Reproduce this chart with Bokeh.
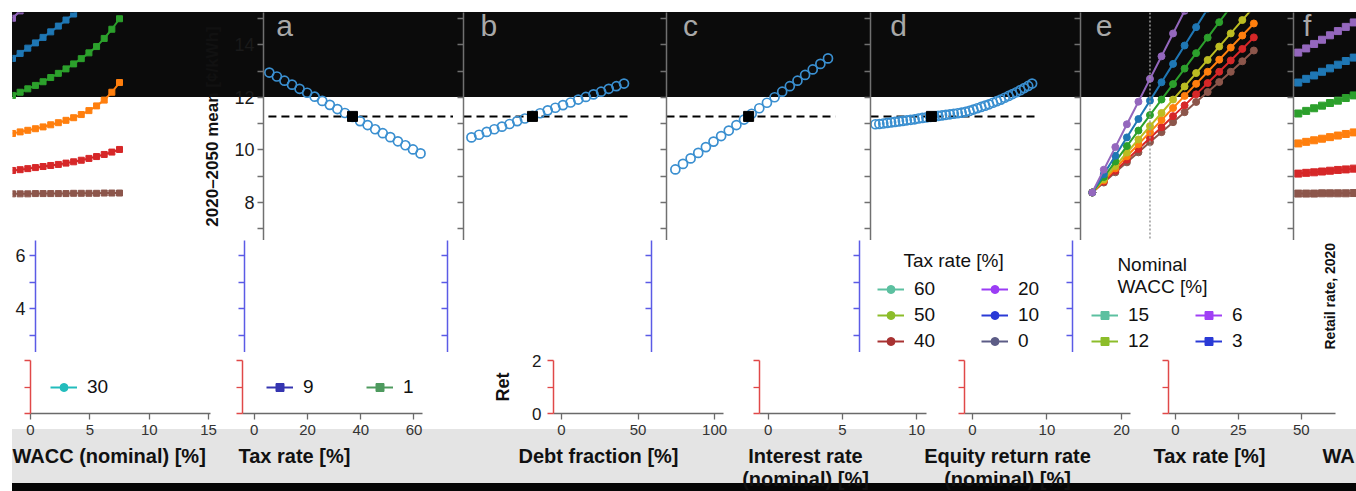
import math
from bokeh.plotting import figure
from bokeh.models import (Range1d, LinearAxis, FixedTicker, Span, Label, Legend,
                          LegendItem, ColumnDataSource, Row, Column,
                          CustomLabelingPolicy)
from bokeh.embed import file_html
from bokeh.resources import INLINE

FONT = "Liberation Sans"
NAN = float("nan")

# ---------------- data ----------------
# left fragment (cost vs step index)
frag_x = list(range(15))
frag_purple = [15.02, 15.30, 15.60, 15.92, 16.26, 16.62, 17.00, 17.40, 17.82, 18.26, 18.72, 19.20, 19.70, 20.22, 20.76]
frag_blue = [13.49, 13.68, 13.88, 14.08, 14.29, 14.50, 14.72, 14.95, 15.18, 15.42, 15.67, 15.93, 16.20, 16.48, 16.77]
frag_green = [12.08, 12.20, 12.33, 12.46, 12.60, 12.76, 12.92, 13.09, 13.28, 13.48, 13.70, 13.94, 14.25, 14.60, 15.00]
frag_orange = [10.63, 10.69, 10.75, 10.81, 10.88, 10.96, 11.04, 11.13, 11.23, 11.35, 11.50, 11.68, 11.90, 12.20, 12.57]
frag_red = [9.22, 9.25, 9.29, 9.33, 9.37, 9.41, 9.45, 9.50, 9.55, 9.61, 9.68, 9.75, 9.83, 9.92, 10.02]
frag_brown = [8.33, 8.33, 8.33, 8.34, 8.34, 8.34, 8.34, 8.34, 8.35, 8.35, 8.35, 8.35, 8.36, 8.36, 8.36]

# panel a: debt fraction [%]
debt_frac = [0, 5, 10, 15, 20, 25, 30, 35, 40, 45, 50, 55, 60, 65, 70, 75, 80, 85, 90, 95, 100]
cost_a = [12.95, 12.80, 12.64, 12.49, 12.33, 12.18, 12.03, 11.87, 11.72, 11.56, 11.41,
          11.26, 11.10, 10.95, 10.79, 10.64, 10.49, 10.33, 10.18, 10.02, 9.87]
# panel b: interest rate [%]
interest = [0, 0.5, 1, 1.5, 2, 2.5, 3, 3.5, 4, 4.5, 5, 5.5, 6, 6.5, 7, 7.5, 8, 8.5, 9, 9.5, 10]
cost_b = [10.48, 10.58, 10.69, 10.79, 10.89, 10.99, 11.10, 11.20, 11.30, 11.40, 11.51,
          11.61, 11.71, 11.81, 11.92, 12.02, 12.12, 12.22, 12.33, 12.43, 12.53]
# panel c: equity return rate [%]
equity = list(range(21))
cost_c = [9.26, 9.47, 9.68, 9.89, 10.11, 10.32, 10.53, 10.74, 10.95, 11.16, 11.38,
          11.59, 11.80, 12.01, 12.22, 12.43, 12.64, 12.86, 13.07, 13.28, 13.49]
# panel d: tax rate [%]
tax_d = list(range(41))
cost_d = [10.98, 10.99, 11.01, 11.03, 11.05, 11.07, 11.09, 11.11, 11.13, 11.15, 11.17,
          11.20, 11.22, 11.24, 11.26, 11.28, 11.30, 11.32, 11.34, 11.36, 11.38,
          11.40, 11.42, 11.45, 11.49, 11.54, 11.59, 11.64, 11.69, 11.74, 11.80,
          11.86, 11.92, 11.99, 12.06, 12.13, 12.20, 12.28, 12.36, 12.44, 12.53]
# base case
base_cost = 11.28
base_debt, base_interest, base_equity, base_tax = 55, 4.0, 9.6, 14.3

# panel e: WACC steps
wacc_e = list(range(15))
e_ref_wacc = 5
e_purple = [8.38, 9.25, 10.11, 10.98, 11.84, 12.71, 13.57, 14.44, 15.30, 16.17, 17.03, 17.90, 18.76, 19.63, 20.49]
e_blue = [8.38, 9.08, 9.78, 10.48, 11.18, 11.88, 12.58, 13.28, 13.98, 14.68, 15.38, 16.08, 16.78, 17.48, 18.18]
e_green = [8.38, 8.97, 9.56, 10.15, 10.74, 11.33, 11.92, 12.51, 13.10, 13.69, 14.28, 14.87, 15.46, 16.05, 16.64]
e_olive = [8.38, 8.89, 9.39, 9.90, 10.40, 10.91, 11.41, 11.92, 12.42, 12.93, 13.43, 13.94, 14.44, 14.95, 15.45]
e_orange = [8.38, 8.84, 9.30, 9.76, 10.22, 10.68, 11.14, 11.60, 12.06, 12.52, 12.98, 13.44, 13.90, 14.36, 14.82]
e_red = [8.38, 8.80, 9.21, 9.63, 10.04, 10.46, 10.87, 11.29, 11.70, 12.12, 12.55, 12.98, 13.41, 13.85, 14.29]
e_brown = [8.38, 8.76, 9.15, 9.53, 9.91, 10.30, 10.68, 11.06, 11.44, 11.83, 12.21, 12.59, 12.98, 13.38, 13.79]

# panel f
f_x = list(range(9))
f_purple = [13.71, 13.87, 14.04, 14.20, 14.37, 14.53, 14.69, 14.86, 15.02]
f_blue = [12.57, 12.71, 12.84, 12.98, 13.11, 13.25, 13.39, 13.52, 13.66]
f_green = [11.39, 11.49, 11.59, 11.69, 11.79, 11.88, 11.98, 12.08, 12.18]
f_orange = [10.25, 10.31, 10.37, 10.43, 10.49, 10.55, 10.61, 10.67, 10.73]
f_red = [9.10, 9.13, 9.15, 9.18, 9.21, 9.24, 9.26, 9.29, 9.32]
f_brown = [8.34, 8.34, 8.34, 8.35, 8.35, 8.35, 8.35, 8.36, 8.36]

# legends
tax_legend = ["60", "50", "40", "30", "20", "10", "0"]
tax_colors = ["#5cc0a0", "#8cbd2a", "#a83232", "#22bcbc", "#9b3cf5", "#2a3ad6", "#5c5c86"]
wacc_legend = ["15", "12", "9", "6", "3", "1"]
wacc_colors = ["#5cc0a0", "#8cbd2a", "#3535b0", "#a040f5", "#2a3ad6", "#4e9a5e"]

# ticks
top_major = [8, 10, 12, 14]
top_minor = [7, 9, 11, 13, 15]
mid_major = [4, 6]
mid_minor = [3, 5]
low_major = [0, 2]
low_minor = [1]
wacc_ticks = [0, 5, 10, 15]
tax_ticks = [0, 20, 40, 60]
debt_ticks = [0, 50, 100]
interest_ticks = [0, 5, 10]
equity_ticks = [0, 10, 20]
tax_ticks2 = [0, 25, 50]

# x-axis titles of the bottom strip
x_titles = ["WACC (nominal) [%]", "Tax rate [%]", "Debt fraction [%]",
            "Interest rate\n(nominal) [%]", "Equity return rate\n(nominal) [%]",
            "Tax rate [%]", "WA"]

PAL = dict(purple="#9467bd", blue="#1f77b4", green="#2ca02c", olive="#bcbd22",
           orange="#ff7f0e", red="#d62728", brown="#8c564b")
CIRC = "#3a8fd0"


def fig(w, h, xr, yr, bl=0, br=0, bt=0, bb=0):
    p = figure(width=w, height=h, x_range=Range1d(*xr), y_range=Range1d(*yr),
               x_axis_location=None, y_axis_location=None, toolbar_location=None,
               output_backend="svg", min_border_left=bl, min_border_right=br,
               min_border_top=bt, min_border_bottom=bb)
    p.background_fill_color = None
    p.border_fill_color = None
    p.outline_line_color = None
    p.xgrid.grid_line_color = None
    p.ygrid.grid_line_color = None
    return p


def yaxis(p, major, minor, color, labels=False, size="18px", standoff=4,
          title=None, title_size="17px", title_standoff=9):
    ax = LinearAxis(ticker=FixedTicker(ticks=major, minor_ticks=minor))
    ax.axis_line_color = color
    ax.axis_line_width = 1.5
    ax.major_tick_line_color = color
    ax.minor_tick_line_color = color
    ax.major_tick_line_width = 1.3
    ax.minor_tick_line_width = 1.3
    ax.major_tick_in = 0
    ax.major_tick_out = 6
    ax.minor_tick_in = 0
    ax.minor_tick_out = 6
    ax.major_label_text_font = FONT
    if labels:
        ax.major_label_text_font_size = size
        ax.major_label_text_color = "#1a1a1a"
        ax.major_label_standoff = standoff
    else:
        ax.major_label_text_font_size = "1px"
        ax.major_label_standoff = 0
        ax.major_label_policy = CustomLabelingPolicy(code="return null")
    if title is not None:
        ax.axis_label = title
        ax.axis_label_text_font = FONT
        ax.axis_label_text_font_style = "bold"
        ax.axis_label_text_font_size = title_size
        ax.axis_label_text_color = "#111111"
        ax.axis_label_standoff = title_standoff
    p.add_layout(ax, "left")


def xaxis(p, ticks):
    ax = LinearAxis(ticker=FixedTicker(ticks=ticks, minor_ticks=[]))
    ax.axis_line_color = "#6a6a6a"
    ax.axis_line_width = 1.5
    ax.major_tick_line_color = "#6a6a6a"
    ax.major_tick_line_width = 1.3
    ax.major_tick_in = 0
    ax.major_tick_out = 6
    ax.minor_tick_line_color = None
    ax.major_label_text_font = FONT
    ax.major_label_text_font_size = "15px"
    ax.major_label_text_color = "#333333"
    ax.major_label_standoff = 5
    p.add_layout(ax, "below")


def letter(p, x, y, t):
    p.add_layout(Label(x=x, y=y, text=t, text_font=FONT, text_font_size="30px",
                       text_color="#a8a8a8", text_align="left", text_baseline="middle"))


def sq_series(p, xs, ys, color, size=6):
    p.line(xs, ys, line_color=color, line_width=2)
    p.scatter(xs, ys, marker="square", size=size, color=color)


def sens_panel(p, xs, ys, bx, x0, x1):
    p.line([x0, x1], [base_cost, base_cost], line_color="black", line_width=2, line_dash="8 5")
    p.scatter(xs, ys, marker="circle", size=9, fill_alpha=0, line_color=CIRC, line_width=1.7)
    p.scatter([bx], [base_cost], marker="square", size=10, color="black")


def legend_item(p, label, color, marker):
    # series shown only through its legend entry in this strip (no visible points)
    src = ColumnDataSource(dict(x=[NAN], y=[NAN]))
    l = p.line("x", "y", source=src, line_color=color, line_width=2)
    s = p.scatter("x", "y", source=src, marker=marker, size=5, color=color)
    return LegendItem(label=label, renderers=[l, s])


def add_legend(p, items, loc, ncols=1, title=None, label_width=63, spacing=4):
    lg = Legend(items=items, location=loc, ncols=ncols)
    if title is not None:
        lg.title = title
        lg.title_text_font = FONT
        lg.title_text_font_size = "19px"
        lg.title_text_font_style = "normal"
        lg.title_text_color = "#111111"
        lg.title_standoff = 6
    lg.border_line_color = None
    lg.background_fill_color = None
    lg.padding = 0
    lg.margin = 0
    lg.spacing = spacing
    lg.glyph_width = 27
    lg.glyph_height = 20
    lg.label_standoff = 10
    lg.label_width = label_width
    lg.label_height = 20
    lg.label_text_font = FONT
    lg.label_text_font_size = "19px"
    lg.label_text_color = "#111111"
    p.add_layout(lg)


TOP_H = 240
TOP_Y = (6.552, 15.238)
AX = "#707070"

# ---------------- top row ----------------
t0 = fig(200, TOP_H, (0, 24.6), TOP_Y, bl=12, bt=12)
for ys, c in [(frag_purple, "purple"), (frag_blue, "blue"), (frag_green, "green"),
              (frag_orange, "orange"), (frag_red, "red"), (frag_brown, "brown")]:
    sq_series(t0, frag_x, ys, PAL[c])

pa = fig(253, TOP_H, (-3.85, 121.8), TOP_Y, bl=57, bt=12)
yaxis(pa, top_major, top_minor, AX, labels=True, size="18px", standoff=3,
      title="2020–2050 mean [¢/kWh]", title_size="17px", title_standoff=9)
sens_panel(pa, debt_frac, cost_a, base_debt, -0.6, 121.8)
letter(pa, 4.5, 14.74, "a")

pb = fig(203, TOP_H, (-0.52, 12.13), TOP_Y, bt=12)
yaxis(pb, top_major, top_minor, AX)
sens_panel(pb, interest, cost_b, base_interest, -0.52, 10.45)
letter(pb, 0.6, 14.74, "b")

pc = fig(204, TOP_H, (-1.16, 24.26), TOP_Y, bt=12)
yaxis(pc, top_major, top_minor, AX)
sens_panel(pc, equity, cost_c, base_equity, -1.16, 21.0)
letter(pc, 1.0, 14.74, "c")

pd = fig(210, TOP_H, (-1.26, 49.8), TOP_Y, bt=12)
yaxis(pd, top_major, top_minor, AX)
sens_panel(pd, tax_d, cost_d, base_tax, -1.26, 41.5)
letter(pd, 3.8, 14.74, "d")

pe = fig(213, TOP_H, (-1.02, 16.57), TOP_Y, bt=12)
yaxis(pe, top_major, top_minor, AX)
pe.add_layout(Span(location=e_ref_wacc, dimension="height", line_color="#9a9a9a",
                   line_dash="2 2", line_width=1.5))
for ys, c in [(e_brown, "brown"), (e_red, "red"), (e_orange, "orange"), (e_olive, "olive"),
              (e_green, "green"), (e_blue, "blue"), (e_purple, "purple")]:
    pe.line(wacc_e, ys, line_color=PAL[c], line_width=2)
    pe.scatter(wacc_e, ys, marker="circle", size=7, color=PAL[c])
letter(pe, 0.3, 14.74, "e")

pf = fig(73, TOP_H, (-0.6, 7.35), TOP_Y, bt=12)
yaxis(pf, top_major, top_minor, AX)
for ys, c in [(f_purple, "purple"), (f_blue, "blue"), (f_green, "green"),
              (f_orange, "orange"), (f_red, "red"), (f_brown, "brown")]:
    sq_series(pf, f_x, ys, PAL[c], size=7)
letter(pf, 0.6, 14.74, "f")

top_row = Row(children=[t0, pa, pb, pc, pd, pe, pf], spacing=0)

# ---------------- middle strip ----------------
MID_H = 112
MID_Y = (2.340, 6.566)
MAX = "#5b5be6"
m_widths = [234, 203, 204, 208, 213, 294]
m_bl = [35, 6, 6, 6, 6, 6]
mids = []
for i, (w, bl) in enumerate(zip(m_widths, m_bl)):
    m = fig(w, MID_H, (0, 1), MID_Y, bl=bl)
    yaxis(m, mid_major, mid_minor, MAX, labels=(i == 0), size="18px", standoff=4)
    mids.append(m)

m4 = mids[4]
tax_items = [legend_item(m4, tax_legend[k], tax_colors[k], "circle") for k in [0, 1, 2, 4, 5, 6]]
add_legend(m4, tax_items, (18, 0), ncols=2, title="\u00a0\u00a0\u00a0\u00a0\u00a0Tax rate [%]")

m5 = mids[5]
wacc_items = [legend_item(m5, wacc_legend[k], wacc_colors[k], "square") for k in [0, 1, 3, 4]]
add_legend(m5, wacc_items, (19, 0), ncols=2,
           title="\u00a0\u00a0\u00a0\u00a0\u00a0Nominal\n\u00a0\u00a0\u00a0\u00a0\u00a0WACC [%]")
m5.add_layout(Label(x=0.906, y=2.453, text="Retail rate, 2020", angle=math.pi / 2,
                    text_align="left", text_baseline="middle", text_font=FONT,
                    text_font_style="bold", text_font_size="14px", text_color="#111111"))

mid_row = Row(children=mids, spacing=0)

# ---------------- lower strip ----------------
LOW_H = 91
LOW_Y = (0, 2)
LAX = "#e04848"

l0 = fig(232, LOW_H, (0, 15.16), LOW_Y, bl=30, br=22, bt=8, bb=30)
yaxis(l0, low_major, low_minor, LAX)
xaxis(l0, wacc_ticks)
add_legend(l0, [legend_item(l0, tax_legend[3], tax_colors[3], "circle")], (20, 15))

l1 = fig(258, LOW_H, (-4.4, 63.2), LOW_Y, bl=6, br=68, bt=8, bb=30)
yaxis(l1, low_major, low_minor, LAX)
xaxis(l1, tax_ticks)
add_legend(l1, [legend_item(l1, wacc_legend[2], wacc_colors[2], "square"),
                legend_item(l1, wacc_legend[5], wacc_colors[5], "square")], (24, 15),
           ncols=2, label_width=59)

l2 = fig(259, LOW_H, (-5.2, 105.8), LOW_Y, bl=62, br=26, bt=8, bb=30)
yaxis(l2, low_major, low_minor, LAX, labels=True, size="17px", standoff=6,
      title="Ret", title_size="18px", title_standoff=16)
xaxis(l2, debt_ticks)

l3 = fig(205, LOW_H, (-0.59, 10.66), LOW_Y, bl=6, br=28, bt=8, bb=30)
yaxis(l3, low_major, low_minor, LAX)
xaxis(l3, interest_ticks)

l4 = fig(204, LOW_H, (-1.05, 21.2), LOW_Y, bl=6, br=28, bt=8, bb=30)
yaxis(l4, low_major, low_minor, LAX)
xaxis(l4, equity_ticks)

l5 = fig(198, LOW_H, (-2.7, 63.6), LOW_Y, bl=6, br=21, bt=8, bb=30)
yaxis(l5, low_major, low_minor, LAX)
xaxis(l5, tax_ticks2)

low_row = Row(children=[l0, l1, l2, l3, l4, l5], spacing=0)

# ---------------- axis-title band ----------------
TB_H = 48
tb = fig(1356, TB_H, (0, 1356), (0, TB_H))
title_pos = [(12, "left"), (238, "left"), (518, "left"), (805, "center"),
             (1007, "center"), (1153, "left"), (1322, "left")]
for text, (tx, al) in zip(x_titles, title_pos):
    for j, line in enumerate(text.split("\n")):
        tb.add_layout(Label(x=tx, y=36 - 23 * j, text=line, text_align=al,
                            text_baseline="middle", text_font=FONT,
                            text_font_style="bold", text_font_size="20px",
                            text_color="#111111"))

bg = ("linear-gradient(to right, #ffffff 0px, #ffffff 12px, rgba(255,255,255,0) 12px), "
      "linear-gradient(to bottom, #ffffff 0px, #ffffff 12px, #0b0b0b 12px, #0b0b0b 97px, "
      "#ffffff 97px, #ffffff 429px, #e4e4e4 429px, #e4e4e4 483px, #060606 483px, #060606 491px)")

layout = Column(children=[top_row, mid_row, low_row, tb],
                spacing=0, width=1356, height=491, styles={"background": bg})

open("out.html", "w").write(file_html(layout, INLINE))
